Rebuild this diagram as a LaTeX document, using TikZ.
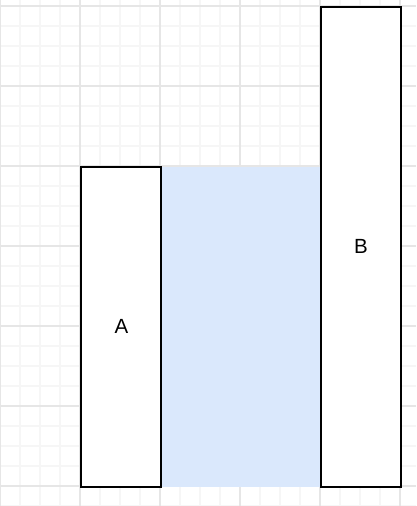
\documentclass[tikz,border=0pt]{standalone}
\usepackage{fontspec}
\setmainfont{Liberation Sans}
\definecolor{minorgrid}{HTML}{F6F6F6}
\definecolor{majorgrid}{HTML}{E6E6E6}
\definecolor{bluefill}{HTML}{DAE8FC}
\begin{document}
\begin{tikzpicture}[x=1pt,y=-1pt,
  bar/.style={draw=black,line width=2pt,fill=white},
  lbl/.style={font=\fontsize{20.5}{24}\selectfont,inner sep=0pt}]
\useasboundingbox (0,0) rectangle (416,506);
\fill[white] (0,0) rectangle (416,506);
% minor grid
\foreach \x in {20,40,...,400} \draw[minorgrid,line width=1.5pt] (\x,0) -- (\x,506);
\foreach \y in {26,46,...,506} \draw[minorgrid,line width=1.5pt] (0,\y) -- (416,\y);
% major grid
\foreach \x in {0,80,...,400} \draw[majorgrid,line width=1.5pt] (\x,0) -- (\x,506);
\foreach \y in {6,86,...,486} \draw[majorgrid,line width=1.5pt] (0,\y) -- (416,\y);
% shapes
\fill[bluefill] (161,167) rectangle (321,487);
\draw[bar] (81,167) rectangle (161,487);
\draw[bar] (321,7) rectangle (401,487);
\node[lbl] (a) at (121.5,326) {A};
\node[lbl] (b) at (361,246) {B};
\end{tikzpicture}
\end{document}
